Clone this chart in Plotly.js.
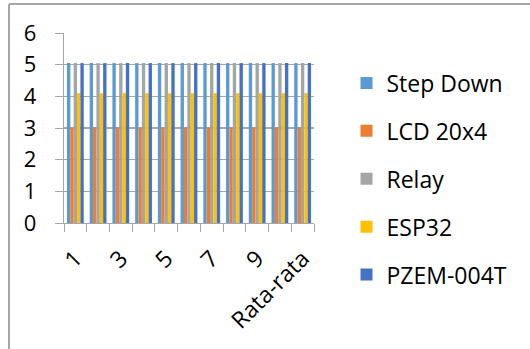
<!DOCTYPE html>
<html>
<head>
<meta charset="utf-8">
<script src="https://cdn.plot.ly/plotly-3.0.1.min.js"></script>
<style>html,body{margin:0;padding:0;background:#fff;}#chart{width:530px;height:349px;}</style>
</head>
<body>
<div id="chart"></div>
<script>
var categories = ["1","2","3","4","5","6","7","8","9","10","Rata-rata"];
var tickLabels = ["1","","3","","5","","7","","9","","Rata-rata"];
var seriesNames = ["Step Down","LCD 20x4","Relay","ESP32","PZEM-004T"];
var stepDown = [5.05,5.05,5.05,5.05,5.05,5.05,5.05,5.05,5.05,5.05,5.05];
var lcd20x4  = [3.02,3.02,3.02,3.02,3.02,3.02,3.02,3.02,3.02,3.02,3.02];
var relay    = [5.05,5.05,5.05,5.05,5.05,5.05,5.05,5.05,5.05,5.05,5.05];
var esp32    = [4.1,4.1,4.1,4.1,4.1,4.1,4.1,4.1,4.1,4.1,4.1];
var pzem     = [5.05,5.05,5.05,5.05,5.05,5.05,5.05,5.05,5.05,5.05,5.05];
var seriesValues = [stepDown, lcd20x4, relay, esp32, pzem];
var colors = ["#5B9BD5","#ED7D31","#A5A5A5","#FFC000","#4472C4"];

var traces = seriesNames.map(function(n,i){
  return {type:"bar", name:n, x:categories, y:seriesValues[i],
          marker:{color:colors[i]}, legendgroup:"g"+i, hoverinfo:"none"};
});

var font = "Open Sans, Liberation Sans, sans-serif";
var gray = "#a6a6a6";
var layout = {
  width:530, height:349,
  margin:{l:64, r:216, t:33, b:126, pad:0},
  paper_bgcolor:"#fff", plot_bgcolor:"#fff",
  barmode:"group", bargap:0.26, bargroupgap:0,
  font:{family:font, color:"#000"},
  xaxis:{type:"category", tickson:"boundaries", tickvals:categories, ticktext:tickLabels,
         tickangle:-45, ticks:"outside", ticklen:8, tickcolor:gray, tickwidth:1,
         showline:true, linecolor:gray, linewidth:1, showgrid:false,
         tickfont:{size:23, family:font}, ticklabelstandoff:12},
  yaxis:{range:[0,6], dtick:1, ticks:"outside", ticklen:8, tickcolor:gray, tickwidth:1,
         showline:true, linecolor:gray, linewidth:1.3, gridcolor:gray, gridwidth:1.3,
         zeroline:false, tickfont:{size:22, family:font}, ticklabelstandoff:14},
  showlegend:true,
  legend:{x:1.13, y:0.85, xanchor:"left", yanchor:"top", font:{size:23, family:font},
          traceorder:"grouped", tracegroupgap:15, bgcolor:"rgba(0,0,0,0)", maxheight:600},
  shapes:[
    {type:"line", xref:"paper", yref:"paper", x0:-0.22, x1:1.9, y0:1.1526, y1:1.1526,
     line:{color:gray, width:2}},
    {type:"line", xref:"paper", yref:"paper", x0:-0.22, x1:-0.22, y0:1.1526, y1:-0.7,
     line:{color:gray, width:2}}
  ]
};
Plotly.newPlot("chart", traces, layout, {displayModeBar:false, staticPlot:true});
</script>
</body>
</html>
